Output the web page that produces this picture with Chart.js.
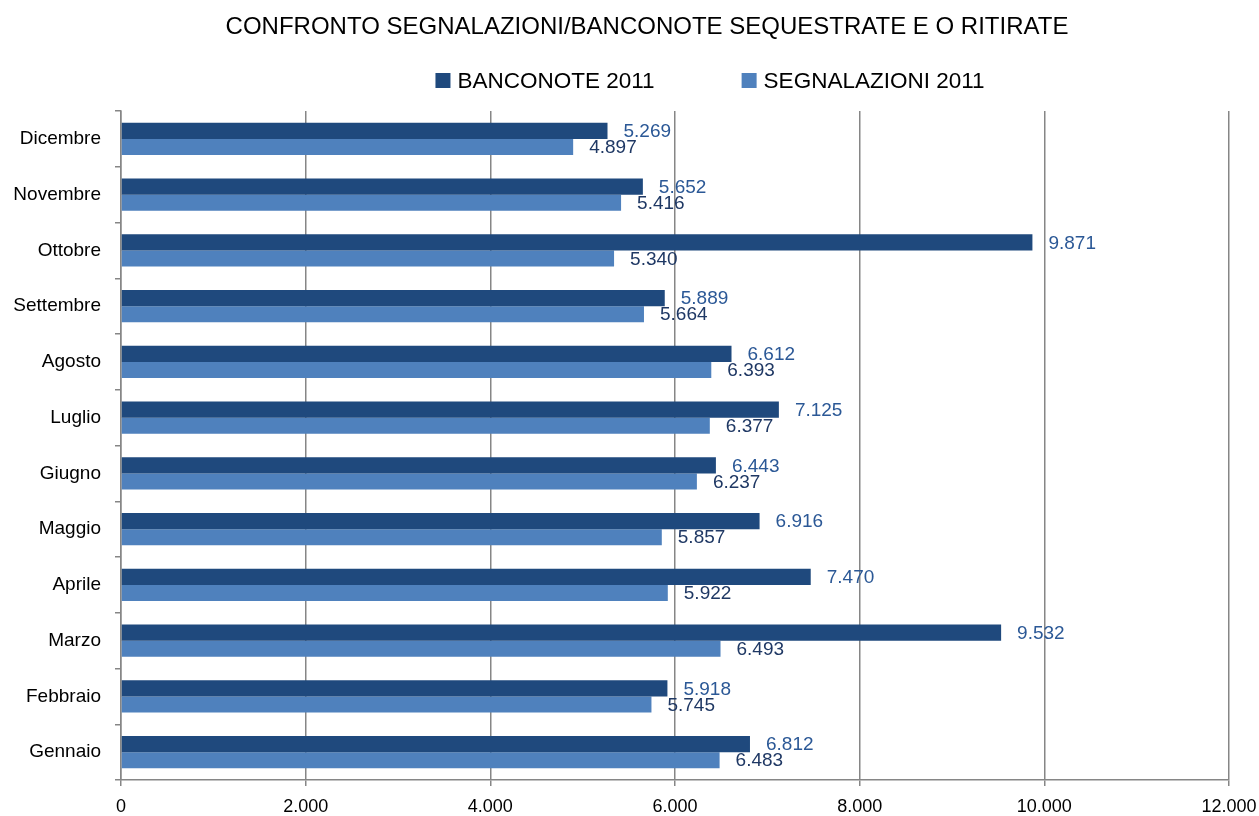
<!DOCTYPE html>
<html>
<head>
<meta charset="utf-8">
<script src="https://cdn.jsdelivr.net/npm/chart.js@4/dist/chart.umd.min.js"></script>
<style>
  html, body { margin: 0; padding: 0; background: #fff; }
  #wrap { width: 1259px; height: 816px; }
</style>
</head>
<body>
<div id="wrap"><canvas id="chart" width="1259" height="816"></canvas></div>
<script>
// months, bottom to top (the y axis is reversed)
const months = ['Gennaio', 'Febbraio', 'Marzo', 'Aprile', 'Maggio', 'Giugno',
  'Luglio', 'Agosto', 'Settembre', 'Ottobre', 'Novembre', 'Dicembre'];
const banconote = [6812, 5918, 9532, 7470, 6916, 6443, 7125, 6612, 5889, 9871, 5652, 5269];
const segnalazioni = [6483, 5745, 6493, 5922, 5857, 6237, 6377, 6393, 5664, 5340, 5416, 4897];
const xTicks = [0, 2000, 4000, 6000, 8000, 10000, 12000];
const titleText = 'CONFRONTO SEGNALAZIONI/BANCONOTE SEQUESTRATE E O RITIRATE';

const FONT = "'Liberation Sans', Arial, sans-serif";
const GRID = '#868686';

// 5269 -> "5.269"
function fmt(v) {
  return String(v).replace(/\B(?=(\d{3})+(?!\d))/g, '.');
}

// value labels next to the end of every bar
const barLabels = {
  id: 'barLabels',
  afterDatasetsDraw(chart) {
    const ctx = chart.ctx;
    ctx.save();
    ctx.font = '19px ' + FONT;
    ctx.textBaseline = 'middle';
    ctx.textAlign = 'left';
    chart.data.datasets.forEach((ds, i) => {
      const meta = chart.getDatasetMeta(i);
      ctx.fillStyle = ds.labelColor;
      meta.data.forEach((bar, j) => {
        ctx.fillText(fmt(ds.data[j]), bar.x + 16, bar.y + 1);
      });
    });
    ctx.restore();
  },
};

// title + legend, placed like the original (a bit right of centre)
const header = {
  id: 'header',
  afterDraw(chart) {
    const ctx = chart.ctx;
    ctx.save();
    ctx.fillStyle = '#000';
    ctx.textBaseline = 'alphabetic';
    ctx.font = '24px ' + FONT;
    ctx.textAlign = 'center';
    ctx.fillText(titleText, 647, 34);

    ctx.font = '22.5px ' + FONT;
    ctx.textAlign = 'left';
    const items = chart.data.datasets.map((ds) => ({
      text: ds.label,
      color: ds.backgroundColor,
      w: 15 + 7 + ctx.measureText(ds.label).width,
    }));
    const gap = 87;
    const total = items.reduce((s, it) => s + it.w, 0) + gap * (items.length - 1);
    let x = 710 - total / 2;
    items.forEach((it) => {
      ctx.fillStyle = it.color;
      ctx.fillRect(x, 73, 15, 15);
      ctx.fillStyle = '#000';
      ctx.fillText(it.text, x + 22, 88);
      x += it.w + gap;
    });
    ctx.restore();
  },
};

const ctx = document.getElementById('chart').getContext('2d');
new Chart(ctx, {
  type: 'bar',
  data: {
    labels: months,
    datasets: [
      {
        label: 'BANCONOTE 2011',
        data: banconote,
        backgroundColor: '#1F497D',
        labelColor: '#2B5896',
        categoryPercentage: 0.575,
        barPercentage: 1,
      },
      {
        label: 'SEGNALAZIONI 2011',
        data: segnalazioni,
        backgroundColor: '#4F81BD',
        labelColor: '#1F3864',
        categoryPercentage: 0.575,
        barPercentage: 1,
      },
    ],
  },
  options: {
    indexAxis: 'y',
    responsive: false,
    animation: false,
    layout: { padding: { left: 0, right: 30, top: 111, bottom: 0 } },
    scales: {
      x: {
        min: 0,
        max: 12000,
        afterBuildTicks: (axis) => {
          axis.ticks = xTicks.map((v) => ({ value: v }));
        },
        afterFit: (scale) => {
          scale.height = 36;
          scale.paddingLeft = 0;
          scale.paddingRight = 0;
        },
        ticks: {
          color: '#000',
          font: { family: FONT, size: 18 },
          padding: 10,
          maxRotation: 0,
          callback: (v) => fmt(v),
        },
        grid: { color: GRID, lineWidth: 1.5, tickLength: 6 },
        border: { color: GRID, width: 1.5 },
      },
      y: {
        reverse: true,
        afterFit: (scale) => { scale.width = 121; },
        ticks: {
          color: '#000',
          font: { family: FONT, size: 19 },
          padding: 14,
        },
        grid: {
          offset: true,
          drawOnChartArea: false,
          color: GRID,
          lineWidth: 1.5,
          tickLength: 6,
        },
        border: { color: GRID, width: 1.5 },
      },
    },
    plugins: {
      title: { display: false },
      legend: { display: false },
      tooltip: { enabled: false },
    },
  },
  plugins: [barLabels, header],
});
</script>
</body>
</html>
